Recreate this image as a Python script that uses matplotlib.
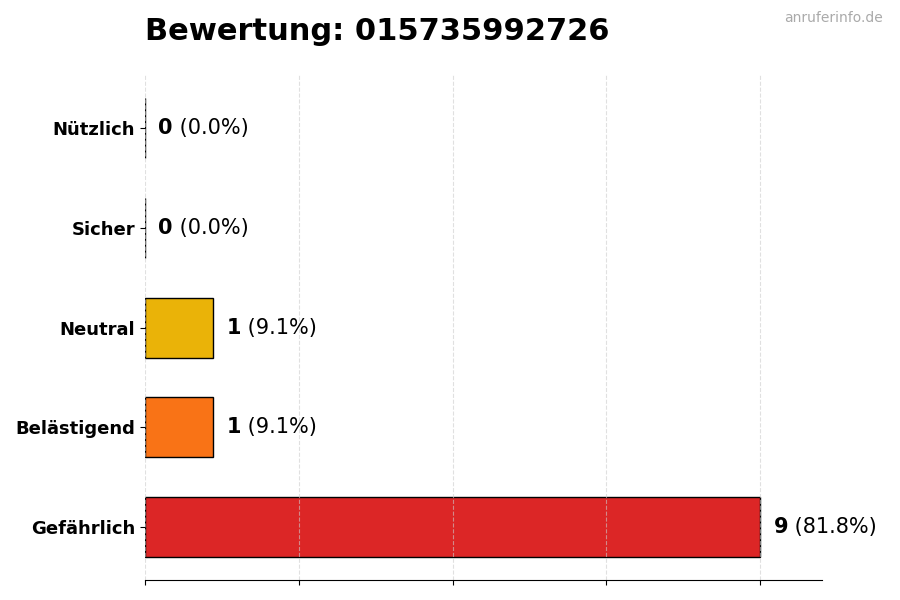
import matplotlib
matplotlib.use("Agg")
import matplotlib.pyplot as plt
import numpy as np

categories = ["Gefährlich", "Belästigend", "Neutral", "Sicher", "Nützlich"]
counts = [9, 1, 1, 0, 0]
colors = ["#dc2626", "#f97316", "#eab308", "#3b82f6", "#22c55e"]
title = "Bewertung: 015735992726"
watermark = "anruferinfo.de"

total = sum(counts)
vmax = max(counts)

fig = plt.figure(figsize=(9, 6), dpi=100)
ax = fig.add_axes([0.161, 0.033, 0.752, 0.842])

y = np.arange(len(categories))
ax.barh(y, counts, height=0.6, color=colors, edgecolor="black", linewidth=1)

ax.set_xlim(0, vmax * 1.1)
ax.set_xticks(np.linspace(0, vmax, 5))
ax.set_xticklabels([])
ax.set_yticks(y)
ax.set_yticklabels(categories, fontsize=13, fontweight="bold")
ax.grid(axis="x", linestyle="--", color="#cccccc", alpha=0.6)

for side in ["top", "right", "left"]:
    ax.spines[side].set_visible(False)

for yi, c in zip(y, counts):
    pct = c / total * 100
    t = ax.text(c + vmax * 0.022, yi, str(c), fontsize=15, fontweight="bold", va="center", ha="left")
    ax.annotate(f" ({pct:.1f}%)", xy=(1, 0.5), xycoords=t, fontsize=15, va="center", ha="left")

fig.text(0.161, 0.947, title, fontsize=22, fontweight="bold", ha="left", va="center")
fig.text(0.981, 0.970, watermark, fontsize=10, color="#aaaaaa", ha="right", va="center")

fig.savefig("out.png", dpi=100)
